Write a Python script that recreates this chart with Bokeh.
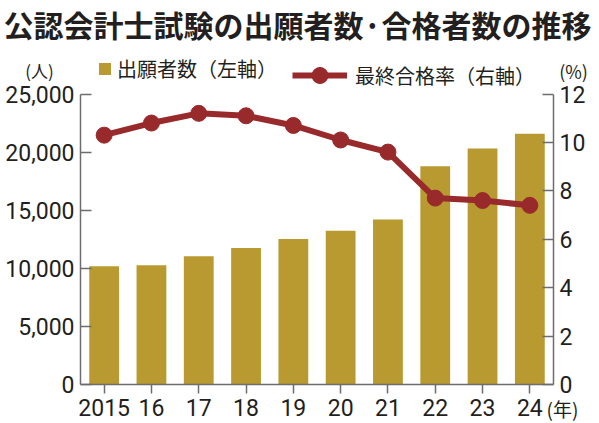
from bokeh.plotting import figure
from bokeh.models import (
    ColumnDataSource,
    LinearAxis,
    Range1d,
    FixedTicker,
    NumeralTickFormatter,
    Legend,
    LegendItem,
    Label,
)
from bokeh.embed import file_html
from bokeh.resources import INLINE

# 年度（2015〜2024）
years = ["2015", "16", "17", "18", "19", "20", "21", "22", "23", "24"]
# 出願者数（人）
applicants = [10180, 10256, 11032, 11742, 12532, 13231, 14192, 18789, 20317, 21573]
# 最終合格率（%）
pass_rate = [10.3, 10.8, 11.2, 11.1, 10.7, 10.1, 9.6, 7.7, 7.6, 7.4]
left_ticks = [0, 5000, 10000, 15000, 20000, 25000]
right_ticks = [0, 2, 4, 6, 8, 10, 12]

GOLD = "#b89a30"
RED = "#992a2c"
INK = "#231f20"
AXIS = "#6d6d6d"
NUM_FONT = "Roboto"
JP_FONT = "Noto Sans CJK JP"

W, H = 599, 423
# the frame fills the whole figure, axes sit at fixed places inside it
AX_L, AX_R = 80, 553      # px of left / right axis
Y0, Y25 = 384, 93.5       # px of 0 and 25,000 (from top)
n = len(years)
xpu = (AX_R - AX_L) / n
ypu = 25000 / (Y0 - Y25)
x0 = -0.5 - AX_L / xpu
x1 = -0.5 + (W - AX_L) / xpu
y0 = -(H - Y0) * ypu
y1 = 25000 + Y25 * ypu


def dx(px):
    return x0 + px / xpu


def dy(px):
    return y1 - px * ypu


idx = list(range(n))
source = ColumnDataSource(data=dict(x=idx, applicants=applicants, rate=pass_rate))

p = figure(
    width=W,
    height=H,
    x_range=Range1d(x0, x1),
    y_range=Range1d(y0, y1),
    output_backend="svg",
    toolbar_location=None,
    min_border=0,
)
p.extra_y_ranges = {"pct": Range1d(y0 * 12 / 25000, y1 * 12 / 25000)}
p.outline_line_color = None
p.grid.visible = False
p.xaxis.visible = False
p.yaxis.visible = False

bars = p.vbar(x="x", top="applicants", width=0.63, source=source,
              fill_color=GOLD, line_color=None)
line = p.line("x", "rate", source=source, y_range_name="pct",
              line_color=RED, line_width=6)
dots = p.scatter("x", "rate", source=source, y_range_name="pct",
                 size=16, fill_color=RED, line_color=RED)

# 左軸
left = LinearAxis(
    ticker=FixedTicker(ticks=left_ticks),
    formatter=NumeralTickFormatter(format="0,0"),
    fixed_location=-0.5,
    bounds=(0, 25000),
)
# 右軸
right = LinearAxis(
    y_range_name="pct",
    ticker=FixedTicker(ticks=right_ticks),
    fixed_location=n - 0.5,
    bounds=(0, 12),
)
# 横軸
bottom = LinearAxis(ticker=FixedTicker(ticks=idx), fixed_location=0,
                    bounds=(-0.5, n - 0.5))
bottom.major_label_overrides = {i: y for i, y in enumerate(years)}

for ax in (left, right, bottom):
    ax.axis_line_color = AXIS
    ax.axis_line_width = 1.5
    ax.major_tick_line_color = AXIS
    ax.major_tick_line_width = 1.5
    ax.minor_tick_line_color = None
    ax.major_label_text_font = NUM_FONT
    ax.major_label_text_font_size = "23px"
    ax.major_label_text_color = INK

for ax in (left, right):
    ax.major_tick_in = 11
    ax.major_tick_out = 0
    ax.major_label_standoff = 6

bottom.major_tick_in = 0
bottom.major_tick_out = 9
bottom.major_label_standoff = 5

p.add_layout(left, "left")
p.add_layout(right, "right")
p.add_layout(bottom, "below")


# 凡例
def legend_box(item, glyph_w, glyph_h, standoff, x, cy):
    lg = Legend(
        items=[item],
        location=(x, H - cy - glyph_h / 2),
        orientation="horizontal",
        glyph_width=glyph_w,
        glyph_height=glyph_h,
        label_height=glyph_h,
        label_standoff=standoff,
        label_text_font=JP_FONT,
        label_text_font_size="20px",
        label_text_color=INK,
        padding=0,
        margin=0,
        border_line_color=None,
        background_fill_color=None,
    )
    p.add_layout(lg, "center")


legend_box(LegendItem(label="出願者数（左軸）", renderers=[bars]), 15, 15, 5, 97, 75)
legend_box(LegendItem(label="最終合格率（右軸）", renderers=[line, dots]), 55, 40, 8, 292, 75)


def note(text, x, y, size, align="center", bold=False):
    p.add_layout(Label(
        x=dx(x), y=dy(y), text=text, text_font=JP_FONT, text_font_size=size,
        text_color=INK, text_align=align, text_baseline="middle",
        text_font_style="bold" if bold else "normal",
    ))


note("公認会計士試験の出願者数·合格者数の推移", 297, 23, "30px", bold=True)
note("(人)", 39, 70, "17px")
note("(%)", 573, 70, "18px")
note("(年)", 562, 408, "19px")

open("out.html", "w").write(file_html(p, INLINE))
